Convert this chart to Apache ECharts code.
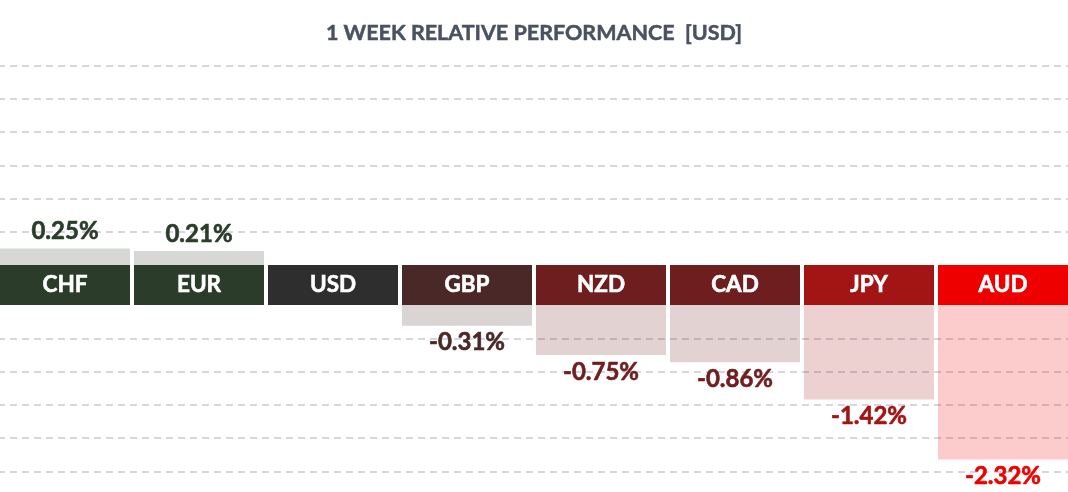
<!DOCTYPE html>
<html>
<head>
<meta charset="utf-8">
<script src="https://cdn.jsdelivr.net/npm/echarts@6/dist/echarts.min.js"></script>
<style>
html,body{margin:0;padding:0;background:#fff;overflow:hidden;}
#chart{position:absolute;left:-2px;top:0;width:1072px;height:492px;}
</style>
</head>
<body>
<div id="chart"></div>
<script>
const categories = ['CHF', 'EUR', 'USD', 'GBP', 'NZD', 'CAD', 'JPY', 'AUD'];
const performance = [0.25, 0.21, 0, -0.31, -0.75, -0.86, -1.42, -2.32];
const titleText = '1 WEEK RELATIVE PERFORMANCE  [USD]';

// styling palette (per category)
const bandColors = ['#2b3c2b', '#2b3c2b', '#2e2e2e', '#4a2828', '#6e1e1e', '#6e1e1e', '#a31515', '#ee0000'];
function rgba(hex, a) {
  const n = parseInt(hex.slice(1), 16);
  return 'rgba(' + ((n >> 16) & 255) + ',' + ((n >> 8) & 255) + ',' + (n & 255) + ',' + a + ')';
}
const FONT = 'Lato, "Open Sans", sans-serif';
const gridLine = '#c9c9d1';

const topData = performance.map((v, i) => v > 0 ? {
  value: v,
  itemStyle: { color: rgba(bandColors[i], 0.2) },
  label: { color: bandColors[i], textBorderColor: bandColors[i] }
} : '-');
const bottomData = performance.map((v, i) => v < 0 ? {
  value: v,
  itemStyle: { color: rgba(bandColors[i], 0.2) },
  label: { color: bandColors[i], textBorderColor: bandColors[i] }
} : '-');
const bandData = categories.map((c, i) => ({ value: 1, itemStyle: { color: bandColors[i] } }));

const chart = echarts.init(document.getElementById('chart'));
const pctLabel = p => p.value.toFixed(2) + '%';

chart.setOption({
  animation: false,
  title: {
    text: titleText,
    left: 'center',
    top: 17,
    textStyle: { fontFamily: FONT, fontSize: 21.5, fontWeight: 'bold', color: '#4a5262',
      textBorderColor: '#4a5262', textBorderWidth: 0.5 }
  },
  grid: [
    { left: 0, right: 0, top: 65.5, bottom: 227 },
    { left: 0, right: 0, top: 265, bottom: 187 },
    { left: 0, right: 0, top: 305, bottom: 20.5 }
  ],
  xAxis: [0, 1, 2].map(g => ({
    type: 'category', gridIndex: g, data: categories, show: false
  })),
  yAxis: [
    {
      type: 'value', gridIndex: 0, min: 0, max: 3, interval: 0.5,
      axisLine: { show: false }, axisTick: { show: false }, axisLabel: { show: false },
      splitLine: { lineStyle: { type: [7, 5], width: 1.5, color: ['transparent', gridLine, gridLine, gridLine, gridLine, gridLine, gridLine] } }
    },
    {
      type: 'value', gridIndex: 1, min: 0, max: 1, show: false, splitLine: { show: false }
    },
    {
      type: 'value', gridIndex: 2, min: -2.5, max: 0, interval: 0.5,
      axisLine: { show: false }, axisTick: { show: false }, axisLabel: { show: false },
      splitLine: { lineStyle: { type: [7, 5], width: 1.5, color: [gridLine, gridLine, gridLine, gridLine, gridLine, 'transparent'] } }
    }
  ],
  series: [
    {
      type: 'bar', xAxisIndex: 0, yAxisIndex: 0, data: topData, barWidth: 130,
      label: { show: true, position: 'top', distance: 5, formatter: pctLabel,
        fontFamily: FONT, fontSize: 24, fontWeight: 'bold', textBorderWidth: 0.6 }
    },
    {
      type: 'bar', xAxisIndex: 1, yAxisIndex: 1, data: bandData, barWidth: 130,
      label: { show: true, position: 'inside', formatter: p => p.name,
        fontFamily: FONT, fontSize: 22.5, fontWeight: 'bold', color: '#ffffff',
        textBorderColor: '#ffffff', textBorderWidth: 0.6 }
    },
    {
      type: 'bar', xAxisIndex: 2, yAxisIndex: 2, data: bottomData, barWidth: 130,
      label: { show: true, position: 'bottom', distance: 5, formatter: pctLabel,
        fontFamily: FONT, fontSize: 24, fontWeight: 'bold', textBorderWidth: 0.6 }
    }
  ]
});
</script>
</body>
</html>
